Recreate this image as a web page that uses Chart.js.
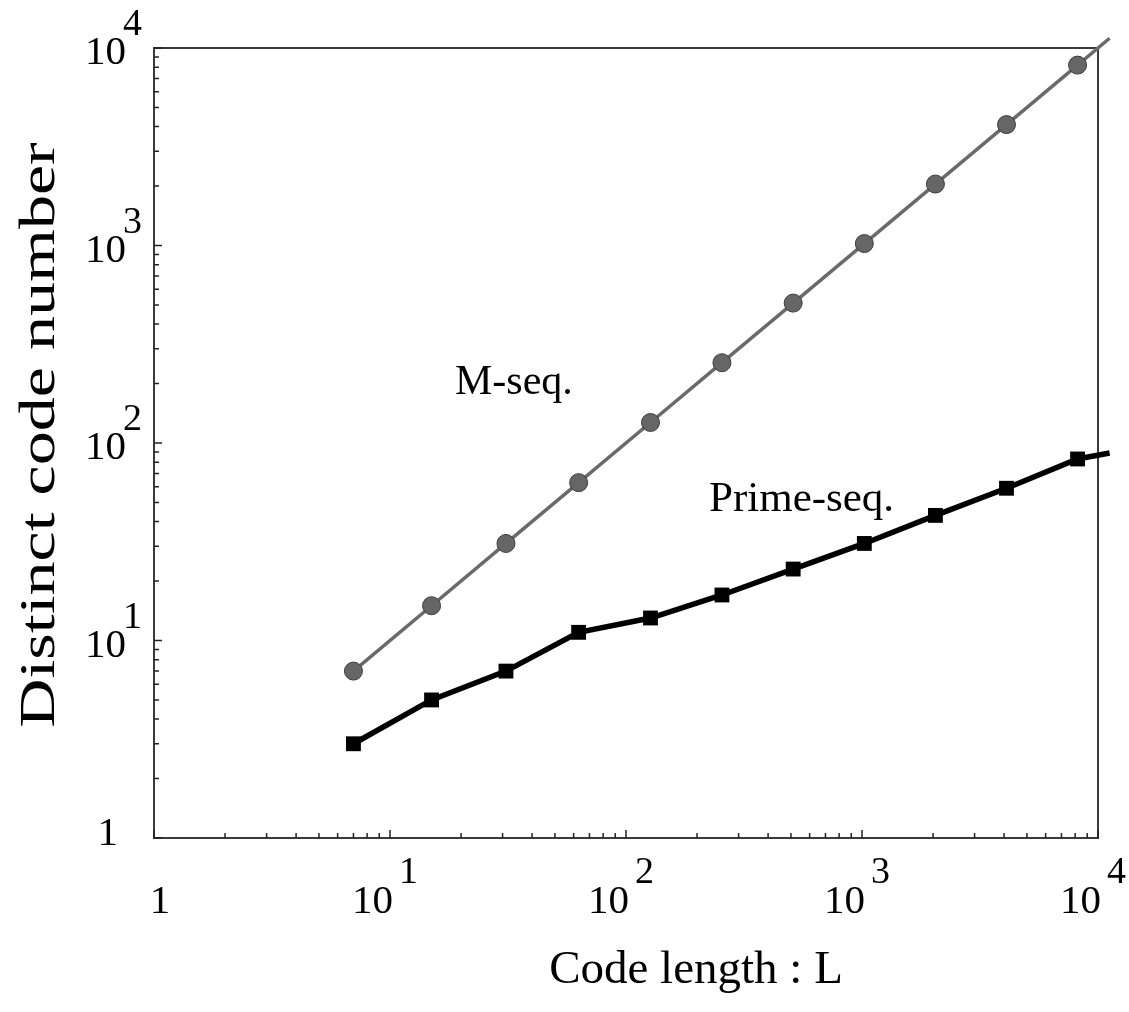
<!DOCTYPE html>
<html>
<head>
<meta charset="utf-8">
<script src="https://cdn.jsdelivr.net/npm/chart.js@4.4.1/dist/chart.umd.min.js"></script>
<style>
  body { margin: 0; background: #fff; }
  #wrap { width: 1129px; height: 1012px; }
</style>
</head>
<body>
<div id="wrap"><canvas id="codeChart" width="1129" height="1012"></canvas></div>
<script>
// 数据
const codeLength = [7, 15, 31, 63, 127, 255, 511, 1023, 2047, 4095, 8191];
const mSeqCount = [7, 15, 31, 63, 127, 255, 511, 1023, 2047, 4095, 8191];
const primeSeqCount = [3, 5, 7, 11, 13, 17, 23, 31, 43, 59, 83];
// 线条延伸到图框外
const tailLength = 11200;
const mSeqTail = 11200;
const primeSeqTail = 89;

const tickValues = [1, 10, 100, 1000, 10000];
const tickExponents = ['', '1', '2', '3', '4'];

const serif = '"Liberation Serif", "DejaVu Serif", serif';

function points(xs, ys, tx, ty) {
    const pts = xs.map((v, i) => ({ x: v, y: ys[i] }));
    pts.push({ x: tx, y: ty });
    return pts;
}

function radii(n, r) {
    const arr = new Array(n).fill(r);
    arr.push(0);
    return arr;
}

// 图框、刻度和文字
const framePlugin = {
    id: 'framePlugin',
    beforeDatasetsDraw(chart) {
        const { ctx, chartArea: a, scales: { x, y } } = chart;
        ctx.save();
        ctx.strokeStyle = '#3a3a3a';
        ctx.lineWidth = 2;
        ctx.strokeRect(a.left, a.top, a.right - a.left, a.bottom - a.top);
        ctx.lineWidth = 1.5;
        ctx.strokeStyle = '#222';
        ctx.beginPath();
        for (let d = 0; d < 4; d++) {
            for (let k = 1; k <= 10; k++) {
                const v = k * Math.pow(10, d);
                const len = (k === 1 || k === 10) ? 8 : 5;
                const px = x.getPixelForValue(v);
                ctx.moveTo(px, a.bottom);
                ctx.lineTo(px, a.bottom - len);
                const py = y.getPixelForValue(v);
                ctx.moveTo(a.left, py);
                ctx.lineTo(a.left + len, py);
            }
        }
        ctx.stroke();
        ctx.restore();
    },
    afterDraw(chart) {
        const { ctx, chartArea: a, scales: { x, y } } = chart;
        ctx.save();
        ctx.fillStyle = '#000';
        ctx.textBaseline = 'alphabetic';
        const big = '41px ' + serif;
        const sup = '38px ' + serif;

        tickValues.forEach((v, i) => {
            // x轴标签
            const px = x.getPixelForValue(v);
            ctx.font = big;
            if (tickExponents[i] === '') {
                ctx.textAlign = 'center';
                ctx.fillText('1', px + 6, 913);
            } else {
                ctx.textAlign = 'right';
                ctx.fillText('10', px + 3, 913);
                ctx.font = sup;
                ctx.textAlign = 'left';
                ctx.fillText(tickExponents[i], px + 9, 883);
            }
            // y轴标签
            const py = y.getPixelForValue(v);
            ctx.font = big;
            if (tickExponents[i] === '') {
                ctx.textAlign = 'right';
                ctx.fillText('1', 118, py + 7);
            } else {
                ctx.textAlign = 'right';
                ctx.fillText('10', 126, py + 16);
                ctx.font = sup;
                ctx.textAlign = 'left';
                ctx.fillText(tickExponents[i], 123, py - 13);
            }
        });

        // 轴标题
        ctx.font = '47px ' + serif;
        ctx.textAlign = 'center';
        ctx.fillText('Code length : L', 696, 983);
        ctx.save();
        ctx.translate(54, 435);
        ctx.rotate(-Math.PI / 2);
        ctx.scale(1.36, 1);
        ctx.font = '50px ' + serif;
        ctx.fillText('Distinct code number', 0, 0);
        ctx.restore();

        // 曲线标注
        ctx.font = '42px ' + serif;
        ctx.textAlign = 'left';
        ctx.fillText('M-seq.', 455, 394);
        ctx.font = '43px ' + serif;
        ctx.fillText('Prime-seq.', 709, 511);
        ctx.restore();
    }
};

const ctx = document.getElementById('codeChart').getContext('2d');
new Chart(ctx, {
    type: 'line',
    data: {
        datasets: [{
            label: 'M-seq.',
            data: points(codeLength, mSeqCount, tailLength, mSeqTail),
            borderColor: '#6a6a6a',
            borderWidth: 3.5,
            pointRadius: radii(codeLength.length, 9),
            pointBackgroundColor: '#666',
            pointBorderColor: '#3c3c3c',
            pointBorderWidth: 1,
            pointStyle: 'circle',
            clip: false,
            tension: 0
        }, {
            label: 'Prime-seq.',
            data: points(codeLength, primeSeqCount, tailLength, primeSeqTail),
            borderColor: '#000',
            borderWidth: 5.5,
            pointRadius: radii(codeLength.length, 10.5),
            pointBackgroundColor: '#000',
            pointBorderColor: '#000',
            pointBorderWidth: 0,
            pointStyle: 'rect',
            clip: false,
            tension: 0
        }]
    },
    options: {
        responsive: false,
        animation: false,
        layout: { padding: { left: 154, right: 31, top: 48, bottom: 174 } },
        plugins: { legend: { display: false }, tooltip: { enabled: false } },
        scales: {
            x: { type: 'logarithmic', min: 1, max: 10000, display: false },
            y: { type: 'logarithmic', min: 1, max: 10000, display: false }
        }
    },
    plugins: [framePlugin]
});
</script>
</body>
</html>
